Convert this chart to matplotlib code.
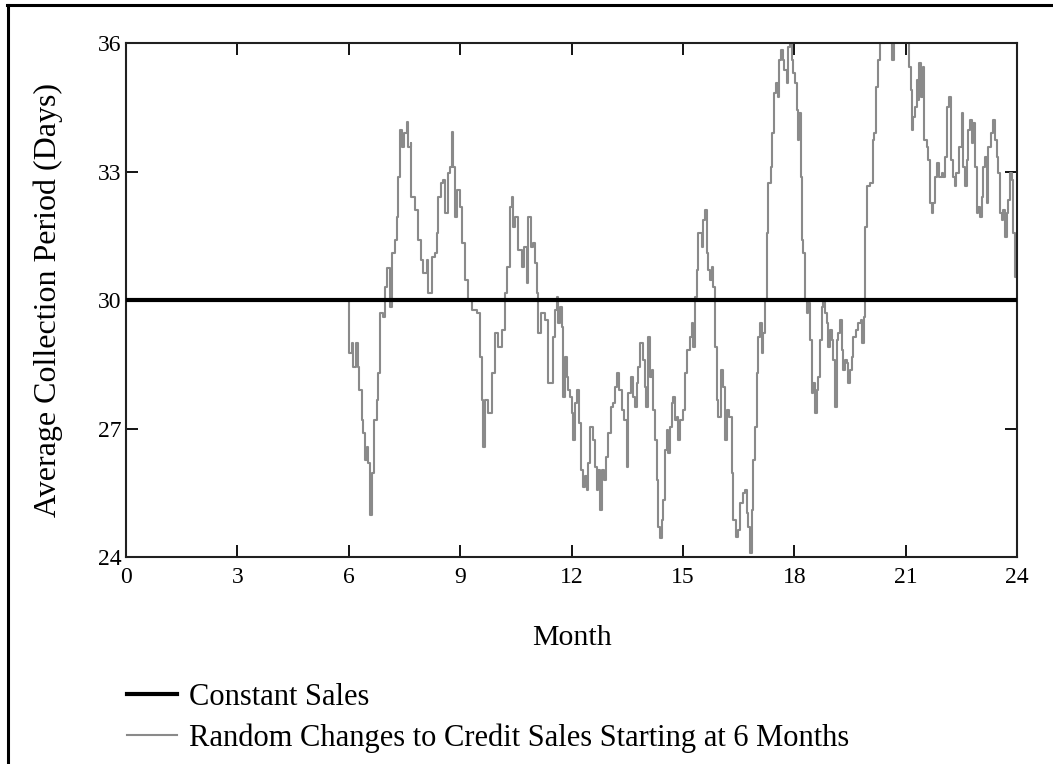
import matplotlib
matplotlib.use("Agg")
import matplotlib.pyplot as plt
from matplotlib.lines import Line2D

# ---- data ----
const_months = [0, 24]
const_values = [30, 30]

random_months = [
    6.00, 6.00, 6.08, 6.12, 6.20, 6.26, 6.28, 6.35, 6.39, 6.44, 6.48, 6.53, 6.57, 6.62, 6.68,
    6.75, 6.80, 6.84, 6.93, 6.98, 7.04, 7.11, 7.16, 7.25, 7.29, 7.32, 7.38, 7.43, 7.49, 7.56,
    7.60, 7.67, 7.69, 7.78, 7.87, 7.94, 8.01, 8.10, 8.14, 8.23, 8.32, 8.37, 8.41, 8.48, 8.53,
    8.59, 8.66, 8.73, 8.77, 8.82, 8.86, 8.92, 9.00, 9.04, 9.13, 9.22, 9.31, 9.45, 9.54, 9.58,
    9.62, 9.67, 9.76, 9.85, 9.94, 10.03, 10.12, 10.21, 10.25, 10.34, 10.39, 10.43, 10.48, 10.57,
    10.66, 10.72, 10.79, 10.84, 10.90, 10.97, 11.02, 11.08, 11.11, 11.17, 11.29, 11.38,
    11.49, 11.56, 11.60, 11.64, 11.69, 11.74, 11.78, 11.83, 11.87, 11.91, 11.96, 12.01, 12.05,
    12.09, 12.16, 12.21, 12.25, 12.32, 12.36, 12.41, 12.45, 12.50, 12.57, 12.63, 12.68, 12.72,
    12.77, 12.81, 12.87, 12.93, 12.99, 13.06, 13.13, 13.17, 13.22, 13.29, 13.35, 13.41, 13.49,
    13.53, 13.59, 13.67, 13.71, 13.76, 13.80, 13.84, 13.92, 13.98, 14.02, 14.07, 14.11, 14.16,
    14.20, 14.25, 14.30, 14.34, 14.38, 14.43, 14.47, 14.52, 14.56, 14.61, 14.65, 14.70, 14.74,
    14.79, 14.83, 14.88, 14.92, 15.01, 15.06, 15.10, 15.19, 15.24, 15.28, 15.33, 15.37, 15.42,
    15.51, 15.55, 15.60, 15.64, 15.69, 15.73, 15.78, 15.82, 15.87, 15.91, 15.95, 16.02, 16.07,
    16.13, 16.18, 16.25, 16.31, 16.36, 16.43, 16.49, 16.54, 16.61, 16.67, 16.72, 16.76, 16.81,
    16.85, 16.90, 16.94, 16.99, 17.03, 17.08, 17.12, 17.17, 17.21, 17.26, 17.30, 17.37, 17.41,
    17.45, 17.51, 17.55, 17.60, 17.64, 17.69, 17.73, 17.80, 17.84, 17.89, 17.93, 17.97, 18.02,
    18.07, 18.09, 18.14, 18.17, 18.20, 18.24, 18.29, 18.34, 18.38, 18.42, 18.47, 18.51, 18.56,
    18.60, 18.65, 18.69, 18.74, 18.78, 18.83, 18.87, 18.92, 18.96, 19.01, 19.05, 19.10, 19.14,
    19.19, 19.23, 19.28, 19.32, 19.37, 19.41, 19.46, 19.50, 19.55, 19.59, 19.66, 19.73, 19.79,
    19.83, 19.88, 19.91, 19.97, 20.04, 20.11, 20.15, 20.19, 20.25, 20.31, 20.45, 20.58, 20.64,
    20.70, 20.85, 21.03, 21.10, 21.14, 21.16, 21.21, 21.25, 21.30, 21.34, 21.37, 21.41, 21.46,
    21.50, 21.57, 21.61, 21.66, 21.70, 21.75, 21.79, 21.85, 21.91, 21.97, 22.02, 22.06, 22.12,
    22.17, 22.21, 22.28, 22.33, 22.37, 22.44, 22.51, 22.55, 22.60, 22.64, 22.69, 22.73, 22.78,
    22.82, 22.87, 22.91, 22.96, 23.00, 23.05, 23.09, 23.14, 23.18, 23.23, 23.30, 23.36, 23.41,
    23.45, 23.50, 23.54, 23.59, 23.63, 23.68, 23.72, 23.77, 23.81, 23.86, 23.90, 23.95, 24.00,
]
random_values = [
    30.00, 28.76, 28.99, 28.44, 29.00, 28.44, 27.90, 27.20, 26.90, 26.26, 26.57, 26.20, 24.98, 25.96, 27.20,
    27.67, 28.30, 29.70, 29.60, 30.31, 30.74, 29.84, 31.09, 31.40, 31.94, 32.88, 33.97, 33.58, 33.90, 34.16,
    33.58, 33.66, 32.41, 32.10, 31.40, 30.93, 30.62, 30.93, 30.16, 31.01, 31.09, 31.56, 32.41, 32.72, 32.80,
    32.02, 32.96, 33.11, 33.93, 33.11, 31.94, 32.57, 32.18, 31.32, 30.47, 30.00, 29.77, 29.69, 28.68, 27.67,
    26.57, 27.67, 27.36, 28.29, 29.22, 28.91, 29.30, 30.16, 30.78, 32.18, 32.41, 31.71, 31.94, 31.17,
    30.78, 31.24, 30.39, 31.94, 31.24, 31.32, 30.86, 30.16, 29.22, 29.69, 29.53, 28.06,
    29.14, 29.77, 30.08, 29.46, 29.84, 29.38, 27.74, 28.68, 28.21, 27.90, 27.74, 27.36, 26.73,
    27.59, 27.90, 27.12, 26.03, 25.64, 25.88, 25.56, 26.19, 27.04, 26.73, 26.11, 25.56, 26.03,
    25.10, 26.03, 25.80, 26.34, 26.89, 27.51, 27.59, 27.98, 28.29, 27.90, 27.43, 27.20, 26.11,
    27.82, 28.21, 27.74, 27.51, 28.06, 28.44, 28.99, 28.60, 27.98, 27.51, 29.14, 28.21, 28.37,
    27.43, 26.73, 25.80, 24.71, 24.44, 24.86, 25.33, 26.50, 26.96, 26.42, 27.04, 27.59, 27.74,
    27.20, 27.28, 26.73, 27.20, 27.43, 28.29, 28.83, 29.14, 29.46, 28.91, 30.08, 30.70, 31.56,
    31.24, 31.87, 32.10, 31.09, 30.70, 30.47, 30.78, 30.31, 28.91, 27.67, 27.28, 28.37, 27.98,
    26.73, 27.43, 27.28, 25.95, 24.86, 24.47, 24.63, 25.25, 25.49, 25.56, 25.02, 24.71, 24.09,
    25.10, 26.26, 27.04, 28.29, 29.14, 29.46, 28.76, 29.22, 30.00, 31.56, 32.72, 33.11, 33.89,
    34.83, 35.06, 34.75, 35.60, 35.84, 35.60, 35.37, 35.06, 35.91, 35.99, 35.60, 35.29, 35.06,
    34.44, 33.74, 34.36, 32.88, 31.40, 31.09, 30.00, 29.69, 29.92, 29.07, 27.82, 28.06, 27.36,
    27.90, 28.21, 29.07, 29.84, 30.00, 29.69, 29.46, 28.91, 29.30, 29.07, 28.60, 27.51, 29.07,
    29.22, 29.53, 28.83, 28.37, 28.60, 28.52, 28.06, 28.37, 28.68, 29.14, 29.30, 29.46, 29.53,
    28.99, 29.60, 31.71, 32.65, 32.72, 33.74, 33.89, 34.98, 35.60, 36.00, 36.60, 36.40, 35.60,
    36.10, 36.50, 36.10, 35.45, 34.90, 33.97, 34.28, 34.51, 35.14, 34.67, 35.53, 34.75, 35.45,
    33.74, 33.58, 33.27, 32.26, 32.02, 32.26, 32.88, 33.19, 32.88, 32.96, 32.88, 33.35, 34.51,
    34.75, 33.27, 32.88, 32.65, 32.96, 33.58, 34.36, 33.11, 32.65, 33.27, 33.97, 34.20, 33.66,
    34.13, 33.11, 32.02, 32.18, 31.94, 32.41, 33.11, 33.35, 32.26, 33.58, 33.89, 34.20, 33.74,
    33.35, 32.96, 32.02, 31.87, 32.10, 31.48, 32.02, 32.33, 32.96, 32.80, 31.56, 30.54, 30.54,
]

x_ticks = [0, 3, 6, 9, 12, 15, 18, 21, 24]
y_ticks = [24, 27, 30, 33, 36]

series_labels = ["Constant Sales", "Random Changes to Credit Sales Starting at 6 Months"]
x_label = "Month"
y_label = "Average Collection Period (Days)"

# ---- figure ----
W, H = 1053, 764
fig = plt.figure(figsize=(W / 100, H / 100), dpi=100)
fig.patch.set_facecolor("white")
serif = ["Liberation Serif", "DejaVu Serif"]

ax = fig.add_axes([126 / W, 1 - 557 / H, (1017 - 126) / W, (557 - 43) / H])

gray_line, = ax.plot(random_months, random_values, color="#8a8a8a", lw=1.5,
                     drawstyle="steps-post", zorder=2)
black_line, = ax.plot(const_months, const_values, color="black", lw=3.0, zorder=3,
                      solid_capstyle="butt")

ax.set_xlim(0, 24)
ax.set_ylim(24, 36)
ax.set_xticks(x_ticks)
ax.set_yticks(y_ticks)
ax.tick_params(direction="in", length=8.5, width=1.3, top=True, right=True,
               labelsize=17, colors="black")
ax.tick_params(axis="x", pad=7)
ax.tick_params(axis="y", pad=3)
for lab in ax.get_xticklabels() + ax.get_yticklabels():
    lab.set_fontfamily(serif)
for sp in ax.spines.values():
    sp.set_linewidth(1.5)
    sp.set_color("#202020")

ax.set_xlabel(x_label, fontsize=21.5, family=serif)
ax.set_ylabel(y_label, fontsize=23, family=serif)
ax.xaxis.set_label_coords((572 - 126) / 891, (557 - 638) / 514)
ax.yaxis.set_label_coords((48 - 126) / 891, 0.5)
ax.xaxis.label.set_va("center")
ax.yaxis.label.set_va("center")

handles = [Line2D([0], [0], color="black", lw=3.0),
           Line2D([0], [0], color="#8a8a8a", lw=1.5)]
fig.legend(handles, series_labels, loc="upper left",
           bbox_to_anchor=(127 / W, 1 - 683 / H), frameon=False,
           prop={"family": serif, "size": 22}, handlelength=1.65,
           handletextpad=0.38, borderpad=0, borderaxespad=0, labelspacing=0.38)

# outer frame (only the left and top edges are visible in the crop)
fig.add_artist(Line2D([7.5 / W, 7.5 / W], [0, 1 - 4.5 / H], transform=fig.transFigure,
                      color="black", lw=2.2))
fig.add_artist(Line2D([6.5 / W, 1], [1 - 4.5 / H, 1 - 4.5 / H], transform=fig.transFigure,
                      color="black", lw=2.2))

fig.savefig("out.png", dpi=100, facecolor="white")
